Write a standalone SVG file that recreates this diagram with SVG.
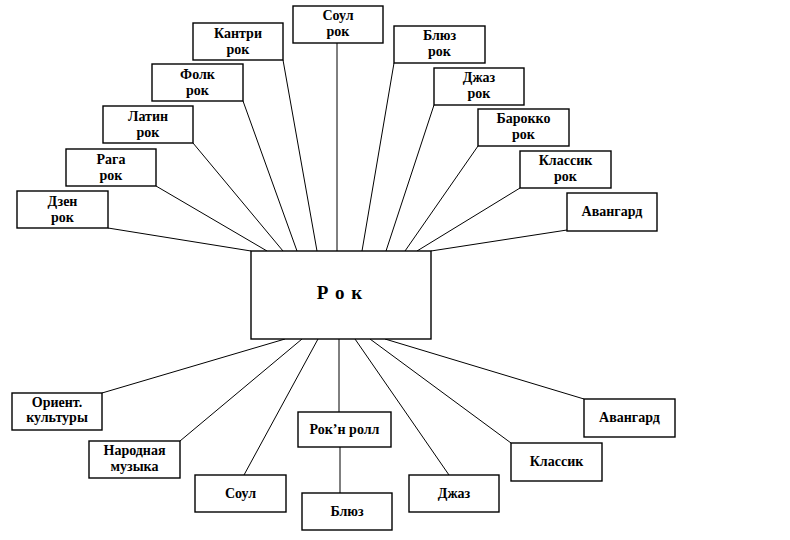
<svg xmlns="http://www.w3.org/2000/svg" width="790" height="540" viewBox="0 0 790 540">
<style>
.box{fill:#fff;stroke:#000;stroke-width:1.4}
.ln{stroke:#000;stroke-width:1;fill:none}
text{font-family:'Liberation Serif','DejaVu Serif',serif;font-weight:bold;font-size:14px;fill:#000;text-anchor:middle}
.big{font-size:19px;letter-spacing:1px}
</style>
<rect width="790" height="540" fill="#fff"/>
<g id="connectors">
<line class="ln" x1="108" y1="228" x2="251" y2="251"/>
<line class="ln" x1="156" y1="186" x2="267" y2="251"/>
<line class="ln" x1="193" y1="143" x2="283" y2="251"/>
<line class="ln" x1="243" y1="101" x2="297" y2="251"/>
<line class="ln" x1="283" y1="60" x2="317" y2="251"/>
<line class="ln" x1="337" y1="43" x2="337" y2="251"/>
<line class="ln" x1="394" y1="63" x2="362" y2="251"/>
<line class="ln" x1="434" y1="105" x2="386" y2="251"/>
<line class="ln" x1="478" y1="146" x2="405" y2="251"/>
<line class="ln" x1="520" y1="188" x2="417" y2="251"/>
<line class="ln" x1="567" y1="230" x2="431" y2="251"/>
<line class="ln" x1="102" y1="393" x2="285" y2="339"/>
<line class="ln" x1="180" y1="441" x2="302" y2="339"/>
<line class="ln" x1="244" y1="475" x2="318" y2="339"/>
<line class="ln" x1="339" y1="339" x2="339" y2="412"/>
<line class="ln" x1="340" y1="447" x2="340" y2="493"/>
<line class="ln" x1="449" y1="475" x2="355" y2="339"/>
<line class="ln" x1="511" y1="443" x2="370" y2="339"/>
<line class="ln" x1="584" y1="399" x2="385" y2="339"/>
</g>
<g font-family="'Liberation Serif', 'DejaVu Serif', serif">
<g id="rock"><rect class="box" x="251" y="251" width="180" height="88"/><text class="big" x="340" y="299">Р о к</text></g>
<g id="zen"><rect class="box" x="17" y="191" width="91" height="37"/><text x="62.5" y="206">Дзен</text><text x="62.5" y="222">рок</text></g>
<g id="raga"><rect class="box" x="66" y="149" width="90" height="37"/><text x="111" y="164">Рага</text><text x="111" y="180">рок</text></g>
<g id="latin"><rect class="box" x="103" y="106" width="90" height="37"/><text x="148" y="121">Латин</text><text x="148" y="137">рок</text></g>
<g id="folk"><rect class="box" x="152" y="64" width="91" height="37"/><text x="197.5" y="79">Фолк</text><text x="197.5" y="95">рок</text></g>
<g id="country"><rect class="box" x="193" y="23" width="90" height="37"/><text x="238" y="38">Кантри</text><text x="238" y="54">рок</text></g>
<g id="soulrock"><rect class="box" x="293" y="6" width="90" height="37"/><text x="338" y="20">Соул</text><text x="338" y="36">рок</text></g>
<g id="bluesrock"><rect class="box" x="394" y="26" width="91" height="37"/><text x="439.5" y="40">Блюз</text><text x="439.5" y="56">рок</text></g>
<g id="jazzrock"><rect class="box" x="434" y="68" width="90" height="37"/><text x="479" y="82">Джаз</text><text x="479" y="98">рок</text></g>
<g id="baroque"><rect class="box" x="478" y="109" width="91" height="37"/><text x="523.5" y="123">Барокко</text><text x="523.5" y="139">рок</text></g>
<g id="classicrock"><rect class="box" x="520" y="151" width="91" height="37"/><text x="565.5" y="165">Классик</text><text x="565.5" y="181">рок</text></g>
<g id="avanttop"><rect class="box" x="567" y="193" width="90" height="38"/><text x="612" y="216">Авангард</text></g>
<g id="orient"><rect class="box" x="12" y="393" width="90" height="37"/><text x="57" y="407">Ориент.</text><text x="57" y="422">культуры</text></g>
<g id="folkmusic"><rect class="box" x="89" y="441" width="91" height="37"/><text x="134.5" y="455">Народная</text><text x="134.5" y="471">музыка</text></g>
<g id="soul"><rect class="box" x="195" y="475" width="91" height="37"/><text x="240.5" y="498">Соул</text></g>
<g id="rocknroll"><rect class="box" x="298" y="412" width="93" height="35"/><text x="344.5" y="434">Рок’н ролл</text></g>
<g id="blues"><rect class="box" x="302" y="493" width="90" height="37"/><text x="347" y="516">Блюз</text></g>
<g id="jazz"><rect class="box" x="409" y="475" width="90" height="37"/><text x="454" y="498">Джаз</text></g>
<g id="classic"><rect class="box" x="511" y="443" width="91" height="38"/><text x="556.5" y="466">Классик</text></g>
<g id="avantbottom"><rect class="box" x="584" y="399" width="91" height="38"/><text x="629.5" y="422">Авангард</text></g>
</g>
</svg>
